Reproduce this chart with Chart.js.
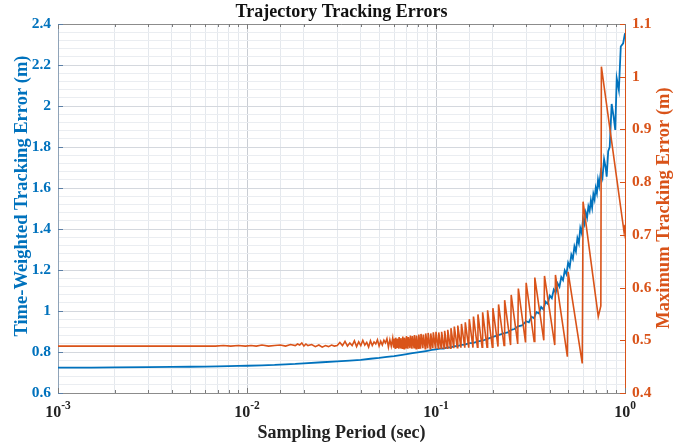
<!DOCTYPE html>
<html>
<head>
<meta charset="utf-8">
<script src="https://cdn.jsdelivr.net/npm/chart.js@4.4.1/dist/chart.umd.min.js"></script>
<style>
  html, body { margin: 0; padding: 0; background: #ffffff; }
  #wrap { width: 697px; height: 445px; }
</style>
</head>
<body>
<div id="wrap"><canvas id="c" width="697" height="445"></canvas></div>
<script>
// ---------------- DATA ----------------
const chartTitle = 'Trajectory Tracking Errors';
const xAxisTitle = 'Sampling Period (sec)';
const leftAxisTitle = 'Time-Weighted Tracking Error (m)';
const rightAxisTitle = 'Maximum Tracking Error (m)';

const xRange = [0.001, 1];
const leftRange = [0.6, 2.4];
const rightRange = [0.4, 1.1];
const leftTickStep = 0.2;
const rightTickStep = 0.1;

// Time-weighted tracking error (left axis): [sampling period, error]
const timeWeightedError = [
  [0.001,0.724],[0.0015,0.724],[0.002,0.725],[0.003,0.726],[0.004,0.727],[0.005,0.728],
  [0.006,0.729],[0.007,0.730],[0.008,0.731],[0.009,0.732],[0.010,0.733],[0.012,0.735],
  [0.014,0.737],[0.016,0.740],[0.018,0.742],[0.020,0.745],[0.025,0.750],[0.030,0.754],
  [0.035,0.758],[0.040,0.762],[0.045,0.767],[0.050,0.771],[0.055,0.776],[0.060,0.780],
  [0.065,0.785],[0.070,0.790],[0.075,0.794],[0.080,0.798],[0.085,0.802],[0.090,0.806],
  [0.095,0.810],[0.100,0.813],[0.105,0.816],[0.110,0.817],[0.115,0.822],[0.120,0.823],
  [0.125,0.828],[0.130,0.829],[0.136,0.835],[0.142,0.836],[0.150,0.843],[0.158,0.845],
  [0.167,0.852],[0.176,0.855],[0.187,0.864],[0.200,0.874],[0.214,0.882],[0.230,0.892],
  [0.240,0.896],[0.250,0.908],[0.260,0.912],[0.272,0.925],[0.285,0.930],[0.300,0.950],
  [0.310,0.945],[0.320,0.972],[0.330,0.965],[0.340,0.995],[0.350,0.988],[0.360,1.020],
  [0.370,1.008],[0.380,1.045],[0.390,1.035],[0.400,1.075],[0.410,1.062],[0.420,1.105],
  [0.430,1.090],[0.440,1.135],[0.450,1.118],[0.460,1.165],[0.470,1.150],[0.480,1.198],
  [0.490,1.180],[0.500,1.235],[0.510,1.215],[0.520,1.275],[0.530,1.255],[0.540,1.315],
  [0.550,1.290],[0.560,1.355],[0.570,1.330],[0.580,1.405],[0.590,1.380],[0.600,1.450],
  [0.610,1.425],[0.620,1.480],[0.630,1.455],[0.640,1.510],[0.650,1.488],[0.660,1.540],
  [0.670,1.505],[0.680,1.570],[0.690,1.545],[0.700,1.600],[0.710,1.575],[0.720,1.640],
  [0.730,1.610],[0.745,1.680],[0.760,1.650],[0.775,1.740],[0.790,1.700],[0.800,1.655],
  [0.815,1.780],[0.830,1.800],[0.850,2.010],[0.870,1.950],[0.888,1.883],[0.904,2.135],
  [0.928,2.078],[0.950,2.290],[0.978,2.306],[1.000,2.355]
];

// Maximum tracking error (right axis): [sampling period, error]
const maximumError = [
  [0.001,0.489],[0.003,0.489],[0.005,0.489],[0.0068,0.489],[0.0075,0.490],[0.0082,0.489],
  [0.009,0.490],[0.0098,0.489],[0.0105,0.490],[0.0112,0.489],[0.012,0.491],[0.013,0.489],
  [0.014,0.490],[0.015,0.491],[0.016,0.489],[0.017,0.492],[0.018,0.490],[0.0185,0.493],
  [0.019,0.491],[0.0195,0.495],[0.020,0.489],[0.0205,0.493],[0.021,0.490],[0.022,0.492],
  [0.023,0.488],[0.024,0.491],[0.025,0.487],[0.026,0.490],[0.027,0.488],[0.028,0.491],
  [0.029,0.489],[0.030,0.490],[0.031,0.496],[0.032,0.490],[0.033,0.498],[0.034,0.489],
  [0.035,0.495],[0.036,0.490],[0.037,0.499],[0.038,0.488],[0.039,0.497],[0.040,0.490],
  [0.041,0.500],[0.042,0.491],[0.043,0.496],[0.044,0.487],[0.045,0.499],[0.046,0.490],
  [0.047,0.497],[0.048,0.493],[0.049,0.501],[0.050,0.489],[0.051,0.498],[0.052,0.491],
  [0.053,0.500],[0.054,0.495],[0.055,0.503],[0.056,0.487],[0.057,0.501],[0.058,0.489],
  [0.059,0.504],
  [0.0597,0.486],[0.0600,0.503],[0.0609,0.485],[0.0612,0.505],[0.0622,0.487],[0.0625,0.503],
  [0.0635,0.484],[0.0638,0.506],[0.0649,0.486],[0.0652,0.504],[0.0663,0.485],[0.0667,0.507],
  [0.0678,0.484],[0.0682,0.505],[0.0694,0.486],[0.0698,0.508],[0.0710,0.484],[0.0714,0.506],
  [0.0728,0.485],[0.0732,0.509],[0.0746,0.484],[0.0750,0.508],[0.0765,0.486],[0.0769,0.510],
  [0.0785,0.484],[0.0789,0.509],[0.0806,0.485],[0.0811,0.511],[0.0828,0.484],[0.0833,0.512],
  [0.0852,0.485],[0.0857,0.511],[0.0877,0.484],[0.0882,0.513],[0.0904,0.485],[0.0909,0.514],
  [0.0932,0.484],[0.0938,0.513],[0.0962,0.485],[0.0968,0.515],[0.0994,0.484],[0.1000,0.516],
  [0.1028,0.485],[0.1034,0.515],[0.1065,0.485],[0.1071,0.516],[0.1104,0.485],[0.1111,0.518],
  [0.1147,0.485],[0.1154,0.520],[0.1193,0.485],[0.1200,0.523],[0.1242,0.485],[0.1250,0.526],
  [0.1296,0.486],[0.1304,0.528],[0.1355,0.486],[0.1364,0.531],[0.1420,0.486],[0.1429,0.534],
  [0.1490,0.486],[0.1500,0.540],[0.1569,0.486],[0.1579,0.545],[0.1656,0.487],[0.1667,0.549],
  [0.1753,0.487],[0.1765,0.553],[0.1862,0.487],[0.1875,0.557],[0.1986,0.487],[0.2000,0.561],
  [0.2128,0.488],[0.2143,0.568],[0.2291,0.490],[0.2308,0.576],[0.2481,0.491],[0.2500,0.586],
  [0.2706,0.493],[0.2727,0.598],[0.2976,0.496],[0.3000,0.609],[0.3306,0.498],[0.3333,0.619],
  [0.3718,0.500],[0.3750,0.622],[0.4250,0.491],[0.4286,0.624],[0.4955,0.469],[0.5000,0.630],
  [0.5940,0.456],[0.6000,0.763],[0.7220,0.545],[0.7450,0.565],[0.7500,1.019],[0.9900,0.704],
  [1.0000,0.719]
];

const blueColor = '#0072BD';
const orangeColor = '#D95319';
const FONT = "'Liberation Serif', 'Times New Roman', Times, serif";

// ---------------- helpers ----------------
function isDecade(v) {
  const l = Math.log10(v);
  return Math.abs(l - Math.round(l)) < 1e-6;
}
function isMultiple(v, step) {
  const r = v / step;
  return Math.abs(r - Math.round(r)) < 1e-6;
}
function fmt(v) {
  const r = Math.round(v * 10) / 10;
  return Number.isInteger(r) ? String(r) : r.toFixed(1);
}

// ---------------- overlay plugin: frame, inward ticks, superscript labels, titles ----------------
const overlay = {
  id: 'overlay',
  afterDraw(chart) {
    const { ctx, chartArea: a, scales } = chart;
    const xs = scales.x, yl = scales.yL, yr = scales.yR;
    ctx.save();

    // top frame line
    ctx.strokeStyle = '#8c8c8c';
    ctx.lineWidth = 1;
    ctx.beginPath();
    ctx.moveTo(a.left, a.top + 0.5);
    ctx.lineTo(a.right, a.top + 0.5);
    ctx.stroke();

    // x ticks (inward, top & bottom)
    ctx.strokeStyle = '#7a7a7a';
    xs.ticks.forEach(t => {
      const px = Math.round(xs.getPixelForValue(t.value)) + 0.5;
      const len = isDecade(t.value) ? 5 : 3;
      ctx.beginPath();
      ctx.moveTo(px, a.bottom); ctx.lineTo(px, a.bottom - len);
      ctx.moveTo(px, a.top); ctx.lineTo(px, a.top + len);
      ctx.stroke();
    });
    // left ticks
    ctx.strokeStyle = '#5b7fa6';
    yl.ticks.forEach(t => {
      if (!isMultiple(t.value, leftTickStep)) return;
      const py = Math.round(yl.getPixelForValue(t.value)) + 0.5;
      ctx.beginPath(); ctx.moveTo(a.left, py); ctx.lineTo(a.left + 5, py); ctx.stroke();
    });
    // right ticks
    ctx.strokeStyle = orangeColor;
    yr.ticks.forEach(t => {
      const py = Math.round(yr.getPixelForValue(t.value)) + 0.5;
      ctx.beginPath(); ctx.moveTo(a.right, py); ctx.lineTo(a.right - 5, py); ctx.stroke();
    });

    // x tick labels 10^k
    ctx.fillStyle = '#222222';
    ctx.textBaseline = 'alphabetic';
    ctx.textAlign = 'left';
    xs.ticks.forEach(t => {
      if (!isDecade(t.value)) return;
      const e = Math.round(Math.log10(t.value));
      const px = xs.getPixelForValue(t.value);
      ctx.font = 'bold 16px ' + FONT;
      const wb = ctx.measureText('10').width;
      ctx.font = 'bold 11.5px ' + FONT;
      const sup = String(e);
      const ws = ctx.measureText(sup).width;
      const x0 = px - (wb + ws) / 2;
      ctx.font = 'bold 16px ' + FONT;
      ctx.fillText('10', x0, 417);
      ctx.font = 'bold 11.5px ' + FONT;
      ctx.fillText(sup, x0 + wb, 409);
    });

    // titles
    ctx.textAlign = 'center';
    ctx.textBaseline = 'middle';
    ctx.fillStyle = '#111111';
    ctx.font = 'bold 18px ' + FONT;
    ctx.fillText(chartTitle, (a.left + a.right) / 2, 12);
    ctx.fillStyle = '#222222';
    ctx.font = 'bold 18px ' + FONT;
    ctx.fillText(xAxisTitle, (a.left + a.right) / 2, 433);

    ctx.font = 'bold 18.5px ' + FONT;
    ctx.save();
    ctx.translate(22, 196);
    ctx.rotate(-Math.PI / 2);
    ctx.fillStyle = blueColor;
    ctx.fillText(leftAxisTitle, 0, 0);
    ctx.restore();

    ctx.save();
    ctx.translate(664, 208);
    ctx.rotate(-Math.PI / 2);
    ctx.fillStyle = orangeColor;
    ctx.fillText(rightAxisTitle, 0, 0);
    ctx.restore();

    ctx.restore();
  }
};

const toXY = arr => arr.map(p => ({ x: p[0], y: p[1] }));

new Chart(document.getElementById('c'), {
  type: 'line',
  data: {
    datasets: [
      {
        label: rightAxisTitle,
        data: toXY(maximumError),
        yAxisID: 'yR',
        borderColor: orangeColor,
        borderWidth: 1.6,
        pointRadius: 0,
        tension: 0,
        fill: false
      },
      {
        label: leftAxisTitle,
        data: toXY(timeWeightedError),
        yAxisID: 'yL',
        borderColor: blueColor,
        borderWidth: 1.8,
        pointRadius: 0,
        tension: 0,
        fill: false
      }
    ]
  },
  options: {
    responsive: false,
    animation: false,
    events: [],
    layout: { padding: { top: 24, left: 0, right: 0, bottom: 0 } },
    plugins: { legend: { display: false }, title: { display: false }, tooltip: { enabled: false } },
    scales: {
      x: {
        type: 'logarithmic',
        min: xRange[0],
        max: xRange[1],
        afterFit: s => { s.height = 52; },
        border: { display: true, color: '#8c8c8c', width: 1 },
        grid: {
          drawTicks: false,
          color: c => (c.tick && isDecade(c.tick.value)) ? '#c9cdd3' : '#e4e8ed',
          lineWidth: 1
        },
        ticks: { autoSkip: false, maxRotation: 0, callback: () => '', padding: 0 }
      },
      yL: {
        type: 'linear',
        position: 'left',
        min: leftRange[0],
        max: leftRange[1],
        afterFit: s => { s.width = 58; },
        border: { display: true, color: '#8fa3b8', width: 1 },
        grid: {
          drawTicks: false,
          color: c => (c.tick && isMultiple(c.tick.value, leftTickStep)) ? '#d4d8de' : '#eaedf1',
          lineWidth: 1
        },
        ticks: {
          stepSize: 0.04,
          autoSkip: false,
          padding: 7,
          color: blueColor,
          font: { family: FONT, size: 15.5, weight: 'bold' },
          callback: v => isMultiple(v, leftTickStep) ? fmt(v) : ''
        }
      },
      yR: {
        type: 'linear',
        position: 'right',
        min: rightRange[0],
        max: rightRange[1],
        afterFit: s => { s.width = 72; },
        border: { display: true, color: orangeColor, width: 1 },
        grid: { display: false, drawTicks: false },
        ticks: {
          stepSize: rightTickStep,
          autoSkip: false,
          padding: 7,
          color: orangeColor,
          font: { family: FONT, size: 15.5, weight: 'bold' },
          callback: v => fmt(v)
        }
      }
    }
  },
  plugins: [overlay]
});
</script>
</body>
</html>
